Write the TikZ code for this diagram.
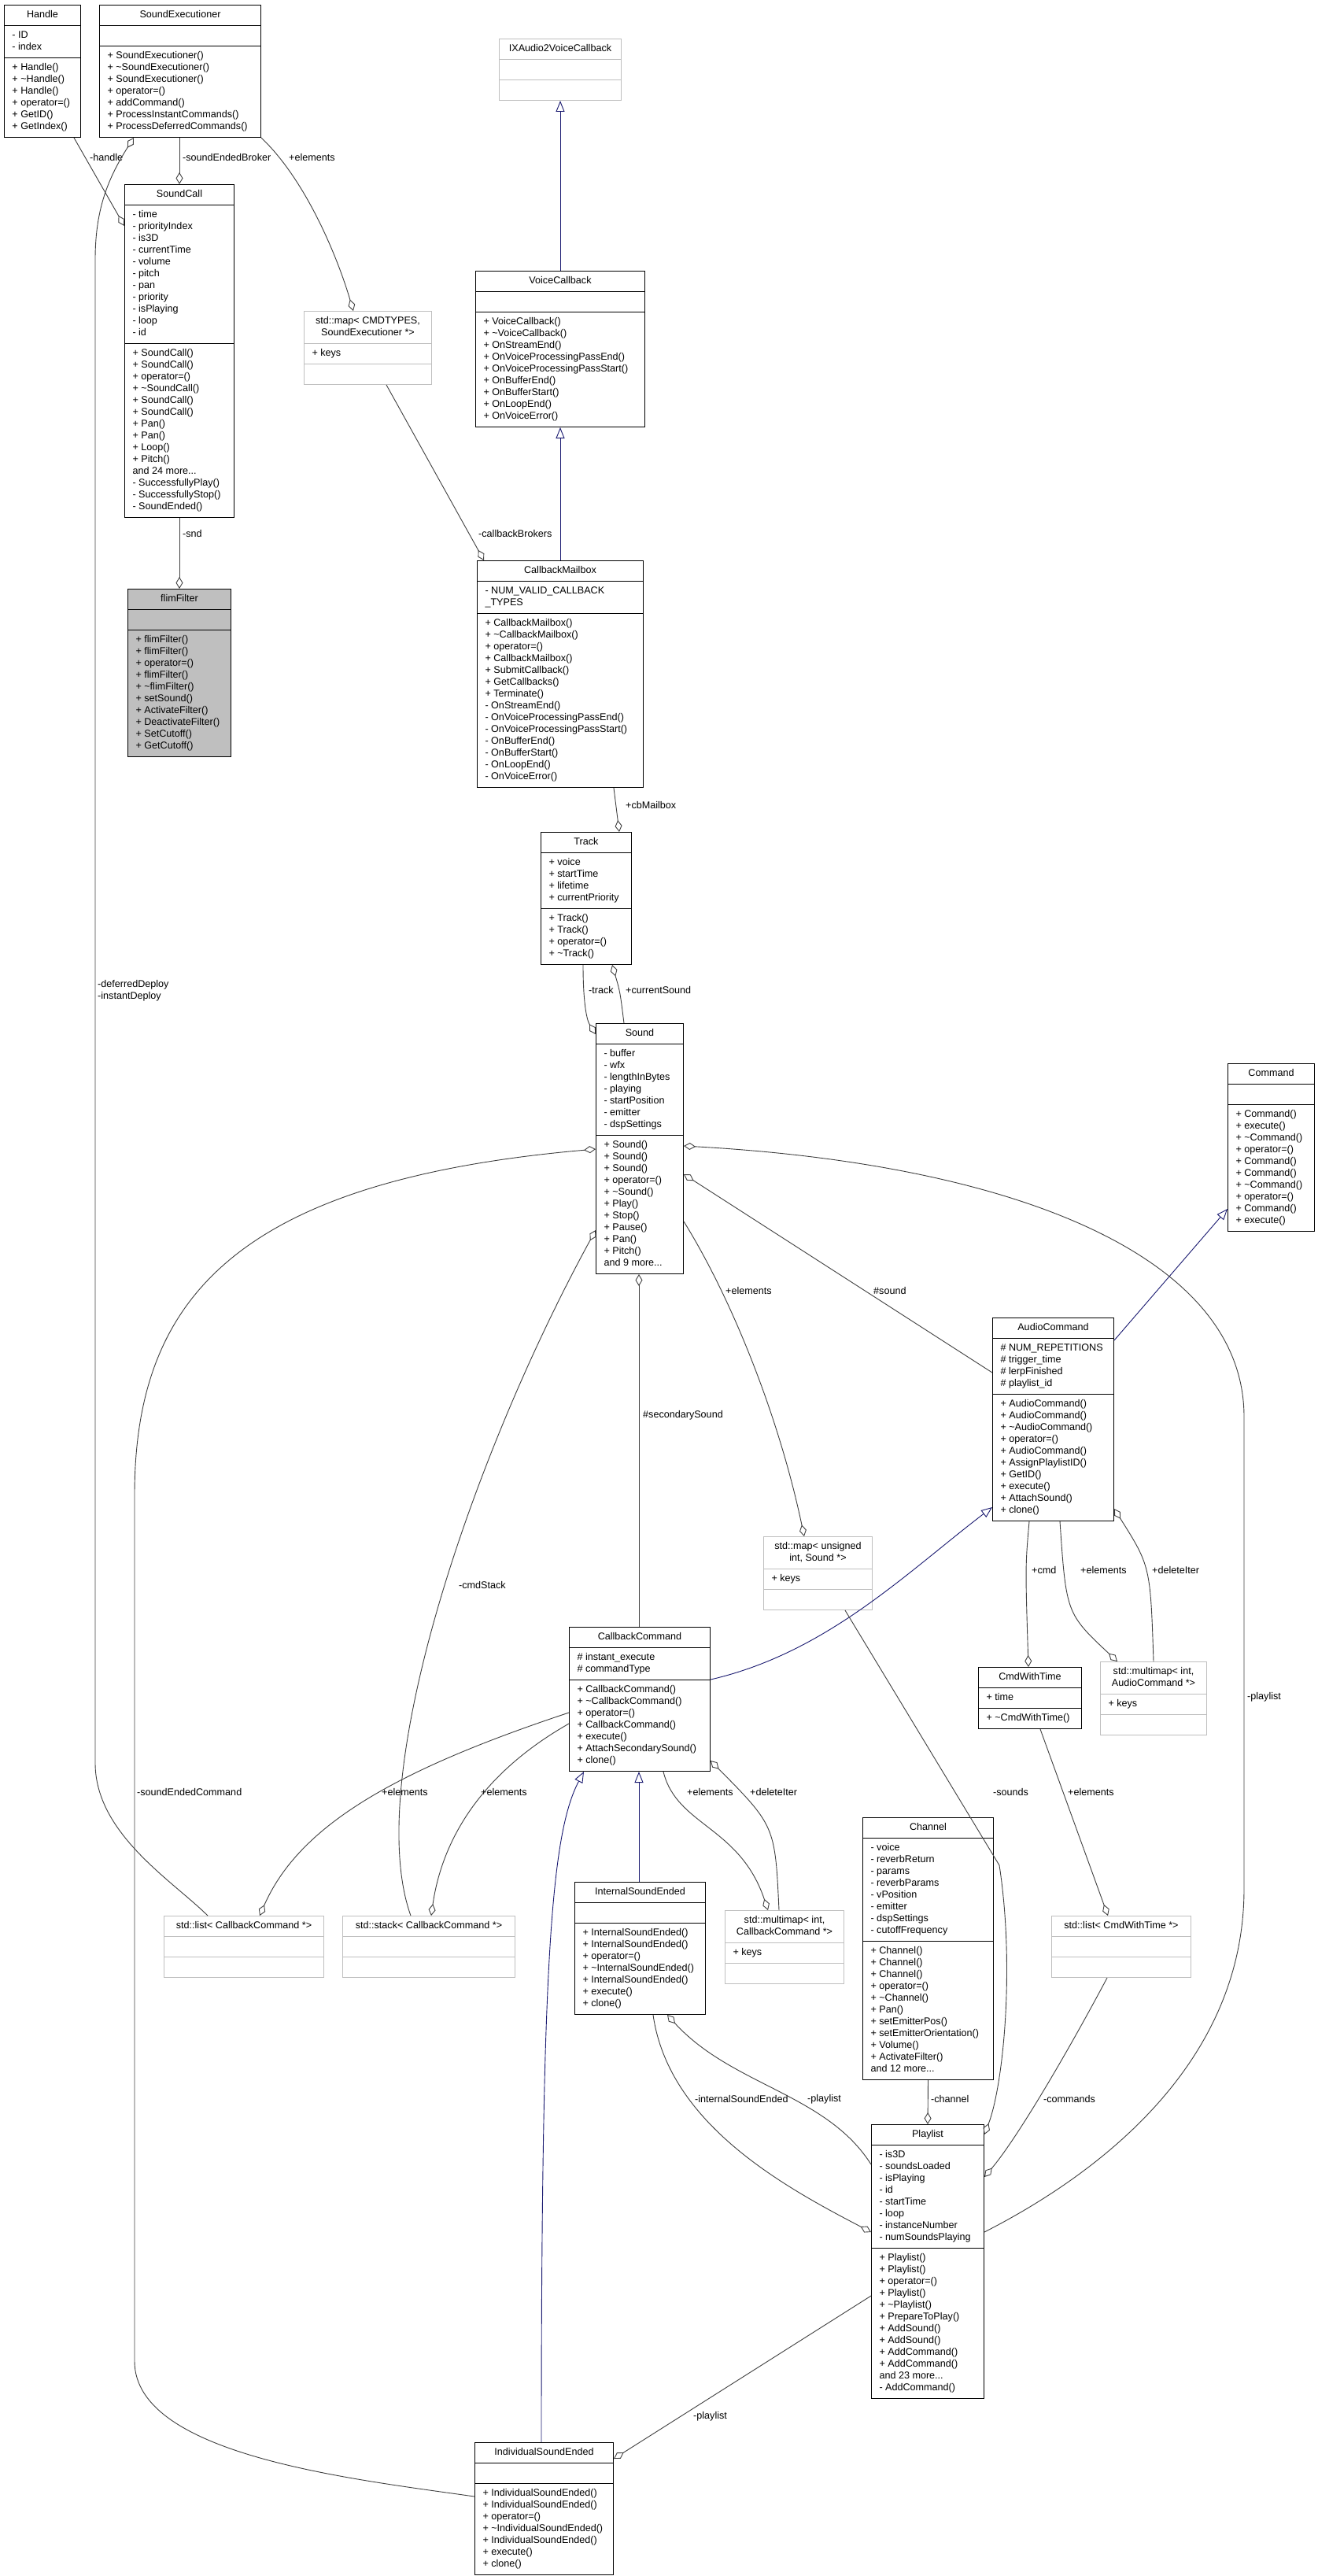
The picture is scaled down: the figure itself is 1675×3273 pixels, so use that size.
\documentclass[tikz,border=0pt]{standalone}
\usepackage{fontspec}
\setmainfont{Liberation Sans}
\usetikzlibrary{shapes.multipart,arrows.meta}
\definecolor{edgegray}{HTML}{404040}
\definecolor{inhblue}{HTML}{191970}
\newcommand\cls[8]{\node[cls,#1,minimum width=#5pt] (#2) at (#3,#4) {\strut #6\strut\nodepart{two}\strut #7\strut\nodepart{three}\strut #8\strut};}
\newcommand\twoline[2]{\begin{tabular}{@{}c@{}}#1\\#2\end{tabular}}
\tikzset{
  cls/.style={rectangle split,rectangle split parts=3,rectangle split part align={center,left,left},draw=black,line width=1pt,inner xsep=10pt,inner ysep=5pt,align=left,anchor=north west,font=\fontsize{12.6}{15}\selectfont},
  plain/.style={},
  tmpl/.style={draw=black!25},
  focus/.style={fill=black!25},
  agg/.style={draw=edgegray,line width=0.9pt,-{Diamond[open,length=15pt,width=9pt,line width=0.9pt]}},
  aggs/.style={draw=edgegray,line width=0.9pt,{Diamond[open,length=15pt,width=9pt,line width=0.9pt]}-},
  inh/.style={draw=inhblue,line width=0.9pt,-{Triangle[open,length=14pt,width=11pt,line width=0.9pt]}},
  lbl/.style={anchor=west,inner sep=0pt,font=\fontsize{12.6}{15}\selectfont,align=left}
}
\begin{document}
\begin{tikzpicture}[x=1pt,y=-1pt]
\fill[white] (0,0) rectangle (1675,3273);
\useasboundingbox (0,0) rectangle (1675,3273);
% classes
\cls{plain}{Handle}{5}{6}{97}{Handle}{- ID\\- index}{+ Handle()\\+ \textasciitilde Handle()\\+ Handle()\\+ operator=()\\+ GetID()\\+ GetIndex()}
\cls{plain}{SoundExecutioner}{126}{6}{205}{SoundExecutioner}{\strut}{+ SoundExecutioner()\\+ \textasciitilde SoundExecutioner()\\+ SoundExecutioner()\\+ operator=()\\+ addCommand()\\+ ProcessInstantCommands()\\+ ProcessDeferredCommands()}
\cls{plain}{SoundCall}{158}{234}{139}{SoundCall}{- time\\- priorityIndex\\- is3D\\- currentTime\\- volume\\- pitch\\- pan\\- priority\\- isPlaying\\- loop\\- id}{+ SoundCall()\\+ SoundCall()\\+ operator=()\\+ \textasciitilde SoundCall()\\+ SoundCall()\\+ SoundCall()\\+ Pan()\\+ Pan()\\+ Loop()\\+ Pitch()\\and 24 more...\\- SuccessfullyPlay()\\- SuccessfullyStop()\\- SoundEnded()}
\cls{focus}{flimFilter}{162}{748}{131}{flimFilter}{\strut}{+ flimFilter()\\+ flimFilter()\\+ operator=()\\+ flimFilter()\\+ \textasciitilde flimFilter()\\+ setSound()\\+ ActivateFilter()\\+ DeactivateFilter()\\+ SetCutoff()\\+ GetCutoff()}
\cls{tmpl}{IX}{634}{49}{155}{IXAudio2VoiceCallback}{\strut}{\strut}
\cls{tmpl}{mapCMD}{386}{395}{162}{\twoline{std::map< CMDTYPES,}{SoundExecutioner *>}}{+ keys}{\strut}
\cls{plain}{VoiceCallback}{604}{344}{215}{VoiceCallback}{\strut}{+ VoiceCallback()\\+ \textasciitilde VoiceCallback()\\+ OnStreamEnd()\\+ OnVoiceProcessingPassEnd()\\+ OnVoiceProcessingPassStart()\\+ OnBufferEnd()\\+ OnBufferStart()\\+ OnLoopEnd()\\+ OnVoiceError()}
\cls{plain}{CallbackMailbox}{606}{712}{211}{CallbackMailbox}{- NUM\_VALID\_CALLBACK\\\_TYPES}{+ CallbackMailbox()\\+ \textasciitilde CallbackMailbox()\\+ operator=()\\+ CallbackMailbox()\\+ SubmitCallback()\\+ GetCallbacks()\\+ Terminate()\\- OnStreamEnd()\\- OnVoiceProcessingPassEnd()\\- OnVoiceProcessingPassStart()\\- OnBufferEnd()\\- OnBufferStart()\\- OnLoopEnd()\\- OnVoiceError()}
\cls{plain}{Track}{687}{1057}{115}{Track}{+ voice\\+ startTime\\+ lifetime\\+ currentPriority}{+ Track()\\+ Track()\\+ operator=()\\+ \textasciitilde Track()}
\cls{plain}{Sound}{757}{1300}{111}{Sound}{- buffer\\- wfx\\- lengthInBytes\\- playing\\- startPosition\\- emitter\\- dspSettings}{+ Sound()\\+ Sound()\\+ Sound()\\+ operator=()\\+ \textasciitilde Sound()\\+ Play()\\+ Stop()\\+ Pause()\\+ Pan()\\+ Pitch()\\and 9 more...}
\cls{plain}{Command}{1560}{1351}{110}{Command}{\strut}{+ Command()\\+ execute()\\+ \textasciitilde Command()\\+ operator=()\\+ Command()\\+ Command()\\+ \textasciitilde Command()\\+ operator=()\\+ Command()\\+ execute()}
\cls{plain}{AudioCommand}{1261}{1674}{154}{AudioCommand}{\# NUM\_REPETITIONS\\\# trigger\_time\\\# lerpFinished\\\# playlist\_id}{+ AudioCommand()\\+ AudioCommand()\\+ \textasciitilde AudioCommand()\\+ operator=()\\+ AudioCommand()\\+ AssignPlaylistID()\\+ GetID()\\+ execute()\\+ AttachSound()\\+ clone()}
\cls{tmpl}{mapU}{970}{1952}{138}{\twoline{std::map< unsigned}{int, Sound *>}}{+ keys}{\strut}
\cls{plain}{CallbackCommand}{723}{2067}{179}{CallbackCommand}{\# instant\_execute\\\# commandType}{+ CallbackCommand()\\+ \textasciitilde CallbackCommand()\\+ operator=()\\+ CallbackCommand()\\+ execute()\\+ AttachSecondarySound()\\+ clone()}
\cls{plain}{CmdWithTime}{1243}{2118}{131}{CmdWithTime}{+ time}{+ \textasciitilde CmdWithTime()}
\cls{tmpl}{mmAC}{1398}{2111}{135}{\twoline{std::multimap< int,}{AudioCommand *>}}{+ keys}{\strut}
\cls{tmpl}{listCB}{208}{2434}{203}{std::list< CallbackCommand *>}{\strut}{\strut}
\cls{tmpl}{stackCB}{435}{2434}{219}{std::stack< CallbackCommand *>}{\strut}{\strut}
\cls{plain}{ISE}{730}{2391}{166}{InternalSoundEnded}{\strut}{+ InternalSoundEnded()\\+ InternalSoundEnded()\\+ operator=()\\+ \textasciitilde InternalSoundEnded()\\+ InternalSoundEnded()\\+ execute()\\+ clone()}
\cls{tmpl}{mmCB}{921}{2427}{151}{\twoline{std::multimap< int,}{CallbackCommand *>}}{+ keys}{\strut}
\cls{plain}{Channel}{1096}{2309}{166}{Channel}{- voice\\- reverbReturn\\- params\\- reverbParams\\- vPosition\\- emitter\\- dspSettings\\- cutoffFrequency}{+ Channel()\\+ Channel()\\+ Channel()\\+ operator=()\\+ \textasciitilde Channel()\\+ Pan()\\+ setEmitterPos()\\+ setEmitterOrientation()\\+ Volume()\\+ ActivateFilter()\\and 12 more...}
\cls{tmpl}{listCWT}{1336}{2434}{177}{std::list< CmdWithTime *>}{\strut}{\strut}
\cls{plain}{Playlist}{1107}{2699}{143}{Playlist}{- is3D\\- soundsLoaded\\- isPlaying\\- id\\- startTime\\- loop\\- instanceNumber\\- numSoundsPlaying}{+ Playlist()\\+ Playlist()\\+ operator=()\\+ Playlist()\\+ \textasciitilde Playlist()\\+ PrepareToPlay()\\+ AddSound()\\+ AddSound()\\+ AddCommand()\\+ AddCommand()\\and 23 more...\\- AddCommand()}
\cls{plain}{IndSE}{603}{3103}{176}{IndividualSoundEnded}{\strut}{+ IndividualSoundEnded()\\+ IndividualSoundEnded()\\+ operator=()\\+ \textasciitilde IndividualSoundEnded()\\+ IndividualSoundEnded()\\+ execute()\\+ clone()}
% inheritance
\draw[inh] (VoiceCallback.north) -- (IX.south);
\draw[inh] (CallbackMailbox.north) -- (VoiceCallback.south);
\draw[inh] ([yshift=-29pt]AudioCommand.north east) -- ([yshift=29pt]Command.south west);
\draw[inh] ([yshift=-67pt]CallbackCommand.north east) .. controls (1050,2100) and (1150,2000) .. ([yshift=18pt]AudioCommand.south west);
\draw[inh] ([xshift=82pt]ISE.north west) -- ([xshift=89pt]CallbackCommand.south west);
\draw[inh] ([xshift=85pt]IndSE.north west) .. controls (688,2500) and (700,2330) .. ([xshift=19pt]CallbackCommand.south west);
% aggregation
\draw[agg] ([xshift=89pt]Handle.south west) -- ([yshift=-53pt]SoundCall.north west);
\node[lbl] (l1) at (114,200) {-handle};
\draw[agg] ([xshift=102pt]SoundExecutioner.south west) -- ([xshift=70pt]SoundCall.north west);
\node[lbl] (l2) at (232,200) {-soundEndedBroker};
\draw[aggs] ([xshift=44pt]SoundExecutioner.south west) .. controls (135,230) and (121,270) .. (121,330) -- (121,2240) .. controls (121,2330) and (220,2390) .. ([xshift=56pt]listCB.north west);
\node[lbl] (l3) at (124,1259) {-deferredDeploy\\-instantDeploy};
\draw[agg] (SoundExecutioner.south east) .. controls (390,230) and (430,330) .. ([xshift=63pt]mapCMD.north west);
\node[lbl] (l4) at (367,200) {+elements};
\draw[agg] ([xshift=105pt]mapCMD.south west) -- ([xshift=9pt]CallbackMailbox.north west);
\node[lbl] (l5) at (608,678) {-callbackBrokers};
\draw[agg] (SoundCall.south) -- (flimFilter.north);
\node[lbl] (l6) at (232,678) {-snd};
\draw[agg] ([xshift=174pt]CallbackMailbox.south west) -- ([xshift=100pt]Track.north west);
\node[lbl] (l7) at (795,1023) {+cbMailbox};
\draw[agg] ([xshift=54pt]Track.south west) .. controls (741,1270) and (745,1295) .. ([yshift=-14pt]Sound.north west);
\node[lbl] (l8) at (748,1258) {-track};
\draw[agg] ([xshift=36pt]Sound.north west) .. controls (788,1260) .. ([xshift=91pt]Track.south west);
\node[lbl] (l9) at (795,1258) {+currentSound};
\draw[aggs] ([yshift=-156pt]Sound.north east) .. controls (1300,1480) and (1581,1600) .. (1581,1800) -- (1581,2400) .. controls (1581,2620) and (1400,2760) .. ([yshift=-137pt]Playlist.north east);
\node[lbl] (l10) at (1585,2156) {-playlist};
\draw[aggs] ([yshift=-192pt]Sound.north east) -- ([yshift=-70pt]AudioCommand.north west);
\node[lbl] (l11) at (1110,1640) {\#sound};
\draw[agg] ([yshift=-252pt]Sound.north east) .. controls (930,1650) and (990,1800) .. ([xshift=52pt]mapU.north west);
\node[lbl] (l12) at (922,1640) {+elements};
\draw[aggs] ([xshift=55pt]Sound.south west) -- ([xshift=89pt]CallbackCommand.north west);
\node[lbl] (l13) at (817,1798) {\#secondarySound};
\draw[aggs] ([yshift=-160pt]Sound.north west) .. controls (300,1500) and (171,1650) .. (171,1900) -- (171,3000) .. controls (171,3120) and (450,3150) .. ([yshift=-69pt]IndSE.north west);
\node[lbl] (l14) at (174,2277) {-soundEndedCommand};
\draw[aggs] ([yshift=-263pt]Sound.north west) .. controls (600,1850) and (460,2260) .. ([xshift=87pt]stackCB.north west);
\node[lbl] (l15) at (583,2014) {-cmdStack};
\draw[agg] ([xshift=47pt]AudioCommand.south west) .. controls (1303,1990) .. ([xshift=64pt]CmdWithTime.north west);
\node[lbl] (l16) at (1311,1995) {+cmd};
\draw[agg] ([xshift=86pt]AudioCommand.south west) .. controls (1355,2050) .. ([xshift=22pt]mmAC.north west);
\node[lbl] (l17) at (1373,1995) {+elements};
\draw[agg] ([xshift=68pt]mmAC.north west) .. controls (1462,1990) .. ([yshift=16pt]AudioCommand.south east);
\node[lbl] (l18) at (1464,1995) {+deleteIter};
\draw[agg] ([xshift=79pt]CmdWithTime.south west) -- ([xshift=72pt]listCWT.north west);
\node[lbl] (l19) at (1357,2277) {+elements};
\draw[agg] ([xshift=120pt]CallbackCommand.south west) .. controls (860,2320) and (940,2320) .. ([xshift=55pt]mmCB.north west);
\node[lbl] (l20) at (873,2277) {+elements};
\draw[agg] ([xshift=69pt]mmCB.north west) .. controls (985,2320) .. ([yshift=14pt]CallbackCommand.south east);
\node[lbl] (l21) at (953,2277) {+deleteIter};
\draw[agg] ([yshift=-109pt]CallbackCommand.north west) .. controls (500,2250) and (380,2320) .. ([xshift=122pt]listCB.north west);
\node[lbl] (l22) at (485,2277) {+elements};
\draw[agg] ([yshift=-123pt]CallbackCommand.north west) .. controls (600,2260) and (560,2350) .. ([xshift=113pt]stackCB.north west);
\node[lbl] (l23) at (611,2277) {+elements};
\draw[agg] ([xshift=104pt]mapU.south west) -- (1270,2370) .. controls (1290,2500) and (1275,2650) .. ([yshift=-13pt]Playlist.north east);
\node[lbl] (l24) at (1262,2277) {-sounds};
\draw[agg] ([xshift=71pt]listCWT.south west) .. controls (1350,2620) and (1290,2720) .. ([yshift=-67pt]Playlist.north east);
\node[lbl] (l25) at (1326,2667) {-commands};
\draw[agg] (Channel.south) -- (Playlist.north);
\node[lbl] (l26) at (1183,2667) {-channel};
\draw[agg] ([xshift=100pt]ISE.south west) .. controls (850,2700) and (1000,2780) .. ([yshift=-137pt]Playlist.north west);
\node[lbl] (l27) at (883,2667) {-internalSoundEnded};
\draw[aggs] ([xshift=118pt]ISE.south west) .. controls (930,2650) and (1050,2660) .. ([yshift=-51pt]Playlist.north west);
\node[lbl] (l28) at (1026,2667) {-playlist};
\draw[agg] ([yshift=-218pt]Playlist.north west) -- ([yshift=-21pt]IndSE.north east);
\node[lbl] (l29) at (881,3070) {-playlist};
\end{tikzpicture}
\end{document}
